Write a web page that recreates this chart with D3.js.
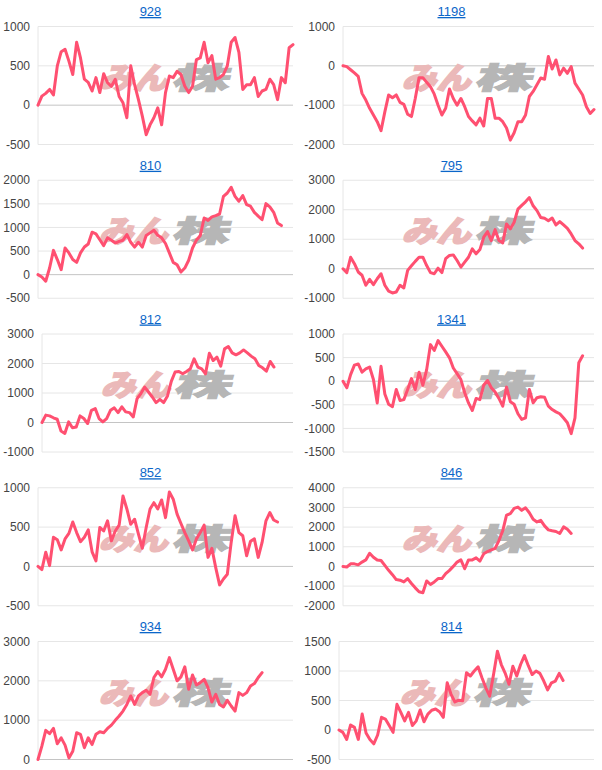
<!DOCTYPE html>
<html>
<head>
<meta charset="utf-8">
<script src="https://cdn.jsdelivr.net/npm/d3@7"></script>
<style>
  body { margin: 0; background: #fff; }
  svg { display: block; font-family: Arial, "Liberation Sans", sans-serif; }
</style>
</head>
<body>
<svg id="chart" width="602" height="770"></svg>
<script>
// stock codes, one small chart each (left to right, top to bottom)
const codes = ['928', '1198', '810', '795', '812', '1341', '852', '846', '934', '814']

// number of trading days on the shared x axis
const DAYS = 67

const s928 = [0, 115, 150, 200, 130, 500, 680, 710, 560, 390, 800, 600, 330, 290, 180, 350, 160, 400, 285, 240, 330, 110, 30, -160, 500, 260, 70, -140, -375, -250, -160, -35, -250, 160, 370, 350, 430, 390, 240, 160, 240, 580, 600, 800, 540, 630, 330, 350, 390, 500, 800, 860, 670, 200, 260, 260, 350, 110, 180, 200, 330, 260, 70, 350, 285, 730, 770]
const s1198 = [0, -20, -100, -180, -270, -700, -870, -1080, -1250, -1420, -1650, -1170, -740, -810, -740, -930, -980, -1230, -1290, -830, -300, -300, -420, -530, -720, -1000, -1250, -1080, -590, -830, -1000, -830, -1040, -1290, -1400, -1500, -1330, -1530, -830, -830, -1330, -1330, -1420, -1580, -1890, -1700, -1420, -1420, -1250, -780, -650, -480, -310, -340, 240, -80, 150, -230, -60, -190, -20, -440, -590, -740, -1040, -1210, -1110]
const s810 = [0, -50, -140, 140, 515, 320, 105, 565, 460, 320, 260, 460, 585, 650, 900, 865, 740, 615, 780, 730, 670, 705, 730, 850, 685, 585, 685, 585, 830, 885, 940, 835, 780, 660, 460, 260, 210, 55, 140, 305, 565, 730, 830, 1200, 1150, 1225, 1250, 1285, 1660, 1730, 1850, 1660, 1555, 1675, 1485, 1450, 1320, 1240, 1165, 1505, 1435, 1320, 1095, 1040]
const s795 = [0, -130, 390, 170, -110, -220, -560, -360, -540, -340, -170, -560, -760, -820, -790, -560, -650, -55, 100, 250, 390, 390, 110, -130, -170, 20, -130, 340, 450, 470, 280, 55, 225, 390, 675, 505, 650, 1070, 1260, 955, 1325, 955, 875, 1520, 1350, 1575, 2020, 2150, 2270, 2415, 2135, 1970, 1740, 1710, 1630, 1720, 1485, 1600, 1485, 1370, 1180, 955, 845, 700]
const s812 = [0, 250, 225, 160, 110, -290, -370, 20, -180, -150, 225, 135, -35, 415, 470, 135, 20, 135, 415, 495, 335, 530, 360, 335, 190, 810, 980, 1200, 1035, 865, 675, 785, 675, 900, 1395, 1710, 1730, 1650, 1730, 1820, 2160, 1880, 1820, 1650, 2350, 2100, 2215, 1910, 2495, 2575, 2360, 2295, 2360, 2460, 2360, 2250, 2160, 1935, 1855, 1740, 2070, 1880]
const s1341 = [0, -140, 140, 340, 365, 190, 260, 300, 35, -460, 315, -270, -490, -540, -175, -410, -390, -175, 55, -175, 190, -85, 245, 775, 650, 860, 740, 620, 495, 280, 160, 35, -245, -460, -620, -365, -390, -85, 15, -140, -230, -365, -530, -125, -435, -490, -690, -810, -775, -175, -460, -350, -330, -340, -530, -600, -650, -690, -780, -880, -1110, -775, 390, 540]
const s852 = [0, -40, 180, 10, 370, 340, 210, 350, 420, 565, 430, 315, 370, 465, 185, 70, 495, 450, 580, 325, 450, 525, 895, 730, 535, 600, 410, 230, 495, 730, 810, 730, 845, 620, 945, 855, 665, 545, 430, 325, 210, 350, 430, 525, 115, 230, -15, -235, -160, -100, 305, 645, 430, 390, 135, 320, 350, 115, 305, 580, 685, 590, 565]
const s846 = [0, -30, 130, 130, 80, 220, 330, 670, 470, 330, 300, 50, -200, -420, -670, -700, -790, -620, -870, -1090, -1290, -1340, -740, -920, -790, -620, -620, -370, -200, 0, 220, 330, -120, 330, 330, 435, 270, 640, 755, 840, 920, 1310, 1810, 2610, 2680, 2950, 3015, 2850, 2980, 2730, 2395, 2260, 2345, 2060, 1860, 1810, 1775, 1675, 2010, 1890, 1675]
const s934 = [0, 340, 740, 655, 790, 400, 550, 365, 40, 210, 680, 640, 300, 550, 380, 640, 705, 680, 790, 875, 995, 1105, 1230, 1400, 1615, 1400, 1615, 1700, 1760, 1660, 2085, 2235, 2100, 2295, 2590, 2295, 2000, 2100, 2355, 1785, 2150, 1895, 1955, 2040, 1830, 1460, 1655, 1400, 1335, 1505, 1360, 1230, 1700, 1630, 1700, 1870, 1930, 2085, 2210]
const s814 = [0, -40, -160, 85, 45, -160, 270, -50, -160, -235, -85, 215, 185, 75, -40, 435, 300, 155, 300, 75, 155, 340, 140, 270, 335, 355, 310, 215, 800, 605, 475, 505, 495, 970, 915, 1000, 1070, 885, 715, 575, 940, 1335, 1110, 965, 775, 1080, 915, 1110, 1260, 1090, 940, 1000, 960, 830, 680, 800, 830, 960, 840]

// y axis tick labels per chart
const t928 = [-500, 0, 500, 1000]
const t1198 = [-2000, -1000, 0, 1000]
const t810 = [-500, 0, 500, 1000, 1500, 2000]
const t795 = [-1000, 0, 1000, 2000, 3000]
const t812 = [-1000, 0, 1000, 2000, 3000]
const t1341 = [-1500, -1000, -500, 0, 500, 1000]
const t852 = [-500, 0, 500, 1000]
const t846 = [-2000, -1000, 0, 1000, 2000, 3000, 4000]
const t934 = [0, 1000, 2000, 3000]
const t814 = [-500, 0, 500, 1000, 1500]

const seriesList = [s928, s1198, s810, s795, s812, s1341, s852, s846, s934, s814]
const tickList = [t928, t1198, t810, t795, t812, t1341, t852, t846, t934, t814]

const panelW = 301
const panelH = 153.75
const plotTop = 26.5
const plotH = 118
const rightPad = 8

const svg = d3.select('#chart')

codes.forEach((code, i) => {
  const col = i % 2
  const row = Math.floor(i / 2)
  const values = seriesList[i]
  const ticks = tickList[i]

  const g = svg.append('g')
    .attr('transform', `translate(${col * panelW},${row * panelH})`)

  const y = d3.scaleLinear()
    .domain(d3.extent(ticks))
    .range([plotTop + plotH, plotTop])

  // tick labels first, so the plot can start right after the widest one
  const labels = g.append('g')
    .selectAll('text')
    .data(ticks)
    .join('text')
    .attr('y', d => y(d))
    .attr('dy', '0.35em')
    .attr('text-anchor', 'end')
    .attr('font-size', 12)
    .attr('fill', '#444')
    .text(d => d)

  let labelW = 0
  labels.each(function () { labelW = Math.max(labelW, this.getComputedTextLength()) })
  const left = Math.round(labelW + 11)
  labels.attr('x', left - 8)

  const x = d3.scaleLinear()
    .domain([0, DAYS - 1])
    .range([left, panelW - rightPad])

  // grid
  g.append('g')
    .selectAll('line')
    .data(ticks)
    .join('line')
    .attr('x1', left)
    .attr('x2', panelW - rightPad)
    .attr('y1', d => y(d))
    .attr('y2', d => y(d))
    .attr('stroke', d => d === 0 ? '#c4c4c4' : '#e6e6e6')
    .attr('stroke-width', 1)

  g.append('line')
    .attr('x1', left)
    .attr('x2', left)
    .attr('y1', plotTop)
    .attr('y2', plotTop + plotH)
    .attr('stroke', '#e6e6e6')

  // watermark
  const cx = (left + panelW - rightPad) / 2
  const wm = g.append('g')
    .attr('transform', `translate(${cx},${plotTop + 62}) skewX(-16)`)
  wm.append('text')
    .attr('x', 2)
    .attr('text-anchor', 'end')
    .attr('transform', 'scale(1.15,1)')
    .attr('font-family', '"Noto Sans CJK JP", sans-serif')
    .attr('font-weight', 900)
    .attr('font-size', 30)
    .attr('fill', '#ebb9b9')
    .attr('stroke', '#ebb9b9')
    .attr('stroke-width', 1.6)
    .text('みん')
  wm.append('text')
    .attr('x', 3)
    .attr('text-anchor', 'start')
    .attr('transform', 'scale(1.9,1)')
    .attr('font-family', '"Noto Sans CJK JP", sans-serif')
    .attr('font-weight', 900)
    .attr('font-size', 30)
    .attr('fill', '#b6b6b6')
    .attr('stroke', '#b6b6b6')
    .attr('stroke-width', 1)
    .text('株')

  // line
  const line = d3.line()
    .x((d, j) => x(j))
    .y(d => y(d))

  g.append('path')
    .datum(values)
    .attr('d', line)
    .attr('fill', 'none')
    .attr('stroke', '#ff5071')
    .attr('stroke-width', 3)
    .attr('stroke-linejoin', 'round')
    .attr('stroke-linecap', 'round')

  // title
  g.append('text')
    .attr('x', panelW / 2)
    .attr('y', 16)
    .attr('text-anchor', 'middle')
    .attr('font-size', 13)
    .attr('fill', '#0b66c9')
    .attr('text-decoration', 'underline')
    .text(code)
})
</script>
</body>
</html>
